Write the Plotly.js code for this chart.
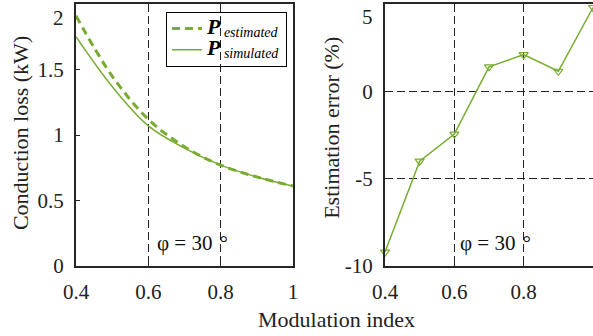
<!DOCTYPE html>
<html>
<head>
<meta charset="utf-8">
<script src="https://cdn.plot.ly/plotly-3.0.1.min.js"></script>
<style>html,body{margin:0;padding:0;background:#fff;}#chart{width:593px;height:336px;position:absolute;top:0;left:0;}</style>
</head>
<body>
<div id="chart"></div>
<script>
// Data
const modIndex = [0.4, 0.5, 0.6, 0.7, 0.8, 0.9, 1.0];
const pEstimated = [1.91, 1.45, 1.12, 0.91, 0.77, 0.68, 0.61];
const pSimulated = [1.75, 1.37, 1.07, 0.90, 0.77, 0.68, 0.61];
const estError = [-9.2, -4.0, -2.45, 1.4, 2.1, 1.15, 4.8];
const xTickVals = [0.4, 0.6, 0.8, 1];
const xTickText = ['0.4', '0.6', '0.8', '1'];
const yTickVals1 = [0, 0.5, 1, 1.5, 2];
const yTickText1 = ['0', '0.5', '1', '1.5', '2'];
const yTickVals2 = [-10, -5, 0, 5];
const yTickText2 = ['-10', '-5', '0', '5'];
const seriesNames = ['estimated', 'simulated'];

const GREEN = '#77AC30';
const FONT_FAM = 'Liberation Serif';
const AX_COLOR = '#262626';

function legendName(sub) {
  return '<span style="font-size:22px"><b><i>P</i></b></span><sub><span style="font-size:14px"><i> ' + sub + '</i></span></sub>';
}

const traces = [
  {x: modIndex, y: pEstimated, type: 'scatter', mode: 'lines', line: {color: GREEN, width: 3, dash: '8px,5px', shape: 'spline'},
   name: legendName(seriesNames[0]), xaxis: 'x', yaxis: 'y'},
  {x: modIndex, y: pSimulated, type: 'scatter', mode: 'lines', line: {color: GREEN, width: 1.5, shape: 'spline'},
   name: legendName(seriesNames[1]), xaxis: 'x', yaxis: 'y'},
  {x: modIndex, y: estError, type: 'scatter', mode: 'lines+markers', line: {color: GREEN, width: 1.5},
   marker: {symbol: 'triangle-down-open', size: 8, color: GREEN, line: {width: 1.2, color: GREEN}},
   showlegend: false, xaxis: 'x2', yaxis: 'y2', cliponaxis: false}
];

const tickfont = {family: FONT_FAM, size: 21, color: '#222'};
const common = {
  ticks: 'inside', ticklen: 4, tickcolor: AX_COLOR, tickwidth: 1,
  showline: true, mirror: true, linecolor: AX_COLOR, linewidth: 2,
  tickfont: tickfont, zeroline: false, ticklabelstandoff: 6
};
const grid = {showgrid: true, gridcolor: '#222', gridwidth: 1, griddash: '8px,4px'};

// top-end tick labels are drawn slightly lower, as in the reference
const topLabel1 = yTickText1[yTickText1.length - 1];
const topLabel2 = yTickText2[yTickText2.length - 1];
const phiText = 'φ = 30\u2004°';

const layout = {
  width: 593, height: 336,
  margin: {l: 76, r: 0, t: 4, b: 70, pad: 0},
  paper_bgcolor: '#fff', plot_bgcolor: 'rgba(255,255,255,0)',
  font: {family: FONT_FAM, size: 14},
  showlegend: true,
  legend: {x: 0.174, y: 0.97, xanchor: 'left', yanchor: 'top', bgcolor: 'rgba(255,255,255,0)',
    bordercolor: '#000', borderwidth: 1, font: {family: FONT_FAM, size: 14, color: '#000'},
    tracegroupgap: 0, itemwidth: 30},
  xaxis: Object.assign({}, common, grid, {domain: [0, 0.4197], range: [0.4, 1], tickvals: xTickVals, ticktext: xTickText, anchor: 'y'}),
  yaxis: Object.assign({}, common, {domain: [0, 1], range: [0, 2], tickvals: yTickVals1.slice(0, -1), ticktext: yTickText1.slice(0, -1), showgrid: false, anchor: 'x'}),
  xaxis2: Object.assign({}, common, grid, {domain: [0.5977, 1], range: [0.4, 1], tickvals: xTickVals, ticktext: xTickText, anchor: 'y2'}),
  yaxis2: Object.assign({}, common, grid, {domain: [0, 1], range: [-10, 5], tickvals: yTickVals2.slice(0, -1), ticktext: yTickText2.slice(0, -1), anchor: 'x2'}),
  annotations: [
    {text: topLabel1, xref: 'paper', yref: 'paper', x: -0.019, y: 0.947, xanchor: 'right', yanchor: 'middle', showarrow: false,
     font: {family: FONT_FAM, size: 21, color: '#222'}},
    {text: topLabel2, xref: 'paper', yref: 'paper', x: 0.578, y: 0.951, xanchor: 'right', yanchor: 'middle', showarrow: false,
     font: {family: FONT_FAM, size: 21, color: '#222'}},
    {text: 'Modulation index', xref: 'paper', yref: 'paper', x: 0.503, y: -0.206, xanchor: 'center', yanchor: 'middle', showarrow: false,
     font: {family: FONT_FAM, size: 22, color: '#222'}},
    {text: 'Conduction loss (kW)', xref: 'paper', yref: 'paper', x: -0.106, y: 0.508, xanchor: 'center', yanchor: 'middle', textangle: -90, showarrow: false,
     font: {family: FONT_FAM, size: 22, color: '#222'}},
    {text: 'Estimation error (%)', xref: 'paper', yref: 'paper', x: 0.495, y: 0.527, xanchor: 'center', yanchor: 'middle', textangle: -90, showarrow: false,
     font: {family: FONT_FAM, size: 22, color: '#222'}},
    {text: phiText, xref: 'paper', yref: 'paper', x: 0.152, y: 0.088, xanchor: 'left', yanchor: 'middle', showarrow: false,
     font: {family: FONT_FAM, size: 21, color: '#111'}},
    {text: phiText, xref: 'paper', yref: 'paper', x: 0.738, y: 0.088, xanchor: 'left', yanchor: 'middle', showarrow: false,
     font: {family: FONT_FAM, size: 21, color: '#111'}}
  ]
};

Plotly.newPlot('chart', traces, layout, {staticPlot: true, displayModeBar: false});
</script>
</body>
</html>
